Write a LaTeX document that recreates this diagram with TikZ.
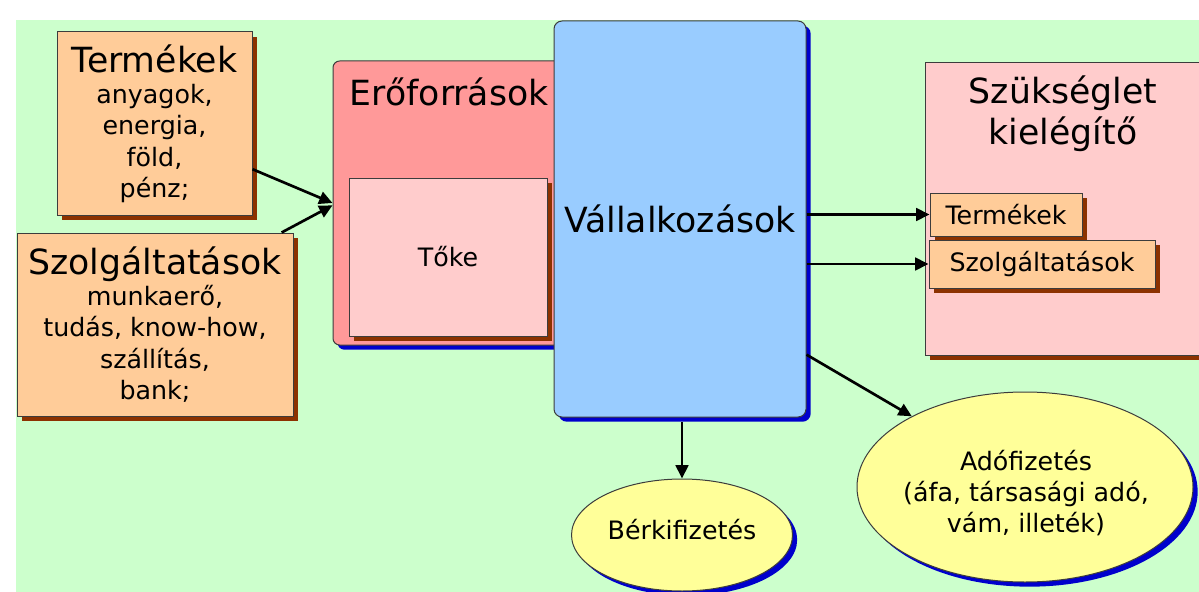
\documentclass[tikz,border=0pt]{standalone}
\usepackage{fontspec}
\setmainfont{DejaVu Sans}
\usetikzlibrary{arrows.meta,shadows,shapes.geometric}

\definecolor{hatter}{RGB}{204,255,204}
\definecolor{narancs}{RGB}{255,204,153}
\definecolor{barna}{RGB}{140,50,0}
\definecolor{keret}{RGB}{60,60,60}
\definecolor{piros}{RGB}{255,153,153}
\definecolor{rozsa}{RGB}{255,204,204}
\definecolor{egkek}{RGB}{153,204,255}
\definecolor{kekarnyek}{RGB}{0,0,204}
\definecolor{sarga}{RGB}{255,255,153}

\newcommand{\cimbetu}{\fontsize{26}{31}\selectfont}
\newcommand{\szovegbetu}{\fontsize{19}{23.5}\selectfont}

\tikzset{
  doboz/.style={draw=keret, line width=0.75pt, fill=narancs, align=center, inner sep=0pt,
    general shadow={fill=barna, shadow xshift=3.5pt, shadow yshift=-3.5pt}},
  kekdoboz/.style={draw=keret, line width=0.75pt, rounded corners=5pt, inner sep=0pt,
    general shadow={fill=kekarnyek, shadow xshift=3.5pt, shadow yshift=-3.5pt}},
  tojas/.style={ellipse, draw=keret, line width=0.75pt, fill=sarga, inner sep=0pt,
    general shadow={fill=kekarnyek, shadow xshift=3.5pt, shadow yshift=-3.5pt}},
  tojasszoveg/.style={font=\szovegbetu, align=center, inner sep=0pt},
  nyil/.style={-{Triangle[length=10pt,width=9.5pt]}, line width=2pt}
}

\begin{document}
\begin{tikzpicture}[x=0.75pt,y=0.75pt,yscale=-1,xscale=1]
\useasboundingbox (0,0) rectangle (1199,592);

%Shape: Background
\fill [hatter] (16,20) rectangle (1199,592);

%Shape: Rectangle [Termékek]
\node [doboz, minimum width=146.25pt, minimum height=137.25pt, font=\szovegbetu] (termekek) at (154.5,123.5)
  {{\cimbetu Termékek}\\anyagok,\\energia,\\föld,\\pénz;};
%Shape: Rectangle [Szolgáltatások]
\node [doboz, minimum width=207pt, minimum height=137.25pt, font=\szovegbetu] (szolg) at (155,324.5)
  {{\cimbetu Szolgáltatások}\\munkaerő,\\tudás, know-how,\\szállítás,\\bank;};

%Shape: Rounded Rect [Erőforrások]
\node [kekdoboz, fill=piros, minimum width=200.25pt, minimum height=213pt] (eroforras) at (466.5,203) {};
% Text Node
\node [anchor=base west, inner sep=0pt, font=\cimbetu] (eroforrascim) at (349,105) {Erőforrások};
%Shape: Rectangle [Tőke]
\node [doboz, fill=rozsa, minimum width=148.5pt, minimum height=118.5pt, font=\szovegbetu] (toke) at (448,257) {Tőke};

%Shape: Rounded Rect [Vállalkozások]
\node [kekdoboz, fill=egkek, rounded corners=6pt, minimum width=189pt, minimum height=297pt, font=\cimbetu] (vallalk) at (680,219) {Vállalkozások};

%Shape: Rectangle [Szükséglet kielégítő]
\node [doboz, fill=rozsa, minimum width=217.5pt, minimum height=219pt] (szukseglet) at (1070,209) {};
% Text Node
\node [align=center, inner sep=0pt, font=\cimbetu] (szukscim) at (1063,114) {Szükséglet\\kielégítő};
%Shape: Rectangle [Termékek, kicsi]
\node [doboz, minimum width=114pt, minimum height=32.25pt, font=\szovegbetu] (termek2) at (1006,214.5) {Termékek};
%Shape: Rectangle [Szolgáltatások, kicsi]
\node [doboz, minimum width=169.5pt, minimum height=36pt, font=\szovegbetu] (szolg2) at (1042,264) {Szolgáltatások};

%Shape: Ellipse [Bérkifizetés]
\node [tojas, minimum width=165.75pt, minimum height=84pt] (ber) at (682,535) {};
% Text Node
\node [tojasszoveg] (berszoveg) at (682,530) {Bérkifizetés};
%Shape: Ellipse [Adófizetés]
\node [tojas, minimum width=252pt, minimum height=142.5pt] (ado) at (1025,487) {};
% Text Node
\node [tojasszoveg] (adoszoveg) at (1026,493) {Adófizetés\\(áfa, társasági adó,\\vám, illeték)};

%Arrows
\draw [nyil] (termekek.-25.5) -- (eroforras.west);
\draw [nyil] (szolg.36) -- (eroforras.181.5);
\draw [nyil] (vallalk.east |- termek2.west) -- (termek2.west);
\draw [nyil] (vallalk.east |- szolg2.west) -- (szolg2.west);
\draw [nyil, shorten <=3.5pt] (ber.north |- vallalk.south) -- (ber.north);
\draw [nyil] (vallalk.-47.6) -- (ado.148);

\end{tikzpicture}
\end{document}
